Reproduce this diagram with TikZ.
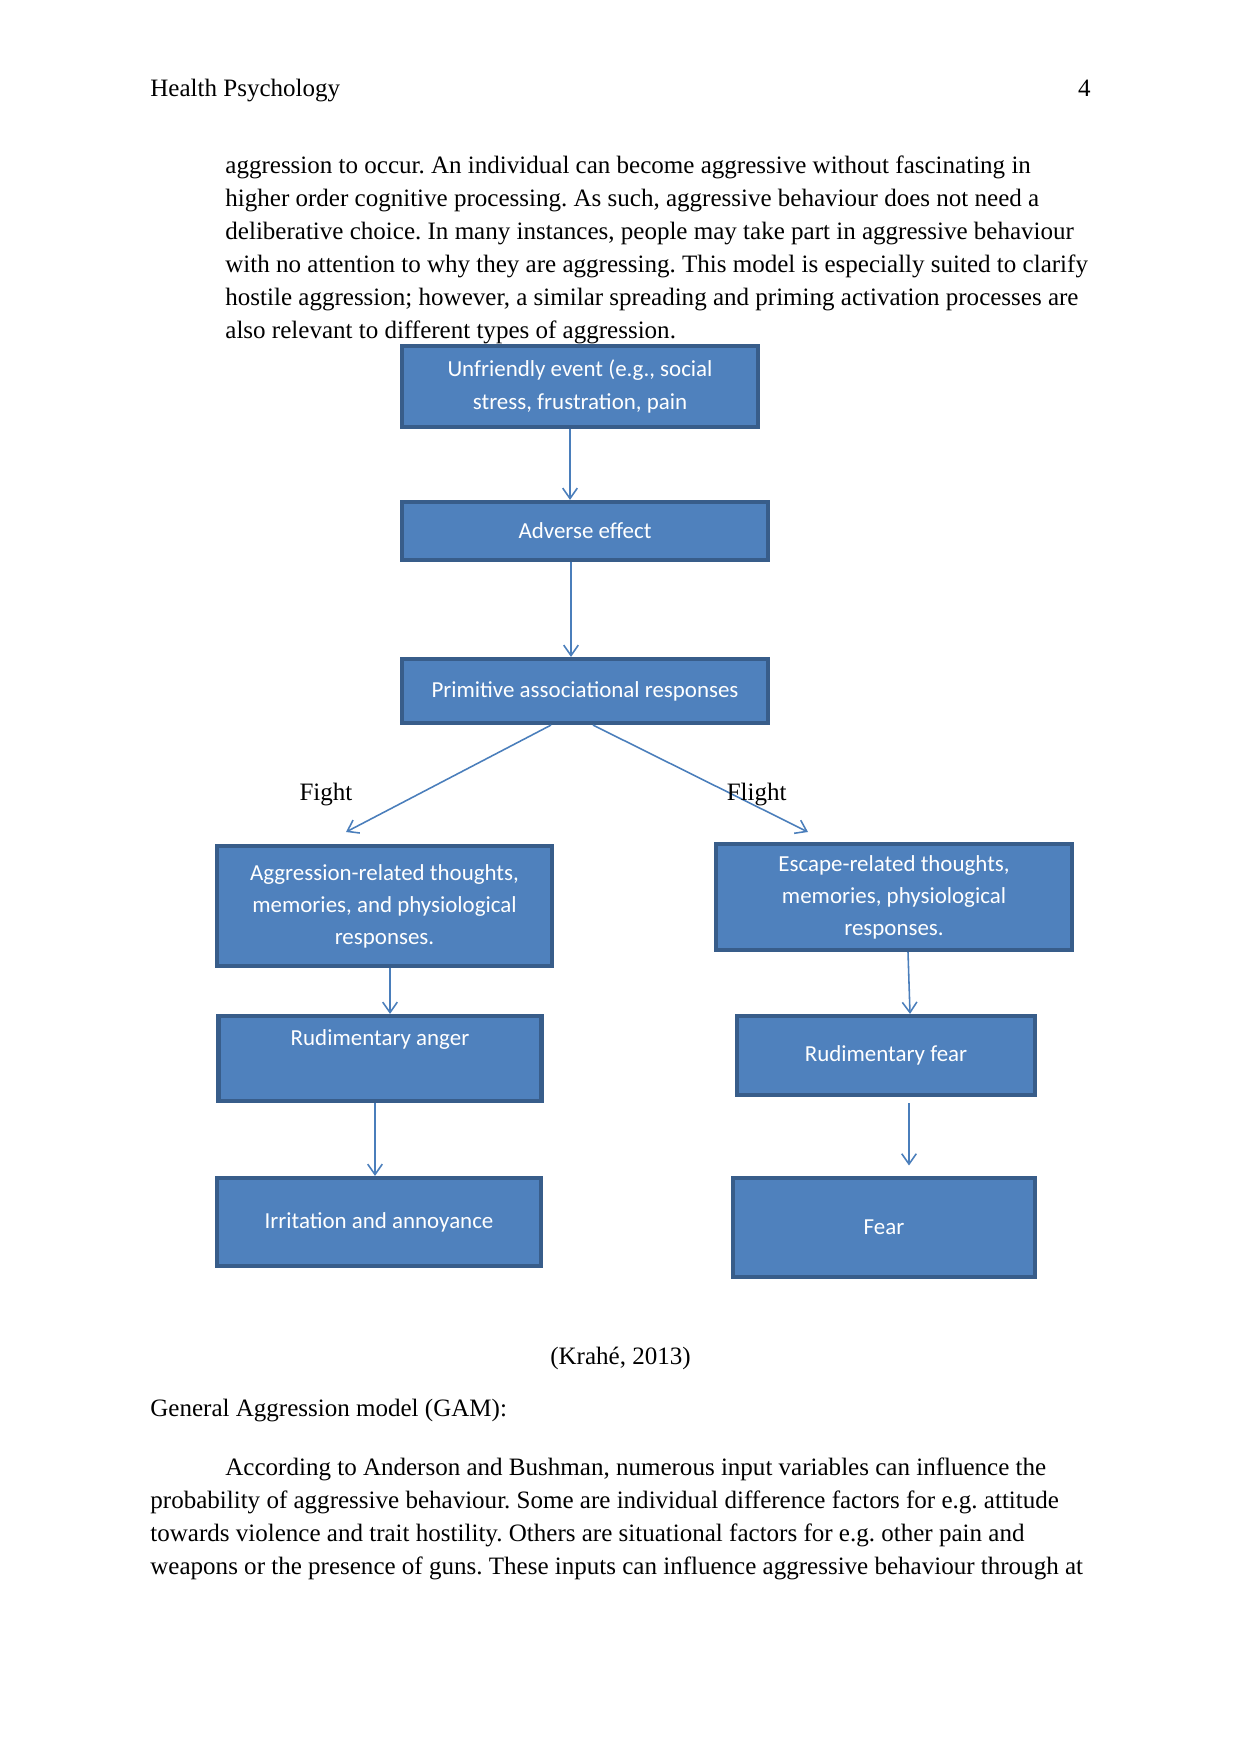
\documentclass[tikz,border=0pt]{standalone}
\usepackage{fontspec}
\setmainfont{Liberation Serif}
\newfontfamily\boxfont{Carlito}
\usetikzlibrary{arrows.meta,calc,positioning}
\definecolor{boxblue}{HTML}{4F81BD}
\definecolor{boxedge}{HTML}{385D8A}
\definecolor{linkblue}{HTML}{4A7EBB}
\newcommand{\pxu}{0.4795pt}
\frenchspacing

\begin{document}
\begin{tikzpicture}[x=0.4795pt, y=-0.4795pt, >={Straight Barb[length=5pt,width=7pt]}]
    % Primitive fight/flight responses to an unfriendly event (page 4)
    \tikzset{box/.style={draw=boxedge, line width=2pt, fill=boxblue, text=white, font=\boxfont\fontsize{11}{15.4}\selectfont, align=center, inner sep=0pt},
             boxtext/.style={text=white, font=\boxfont\fontsize{11}{15.4}\selectfont, inner sep=0pt},
             link/.style={->, draw=linkblue, line width=0.75pt},
             pagetext/.style={font=\fontsize{12}{15.8}\selectfont\frenchspacing, inner sep=0pt, anchor=base west}}
    \useasboundingbox (0,0) rectangle (1241,1754);
    % running head and text above the figure
    \node[pagetext] (head) at (150,96.7) {Health Psychology};
    \node[pagetext, anchor=base east] (pageno) at (1091,96.7) {4};
    \foreach \txt [count=\i] in {{aggression to occur. An individual can become aggressive without fascinating in},
                                 {higher order cognitive processing. As such, aggressive behaviour does not need a},
                                 {deliberative choice. In many instances, people may take part in aggressive behaviour},
                                 {with no attention to why they are aggressing. This model is especially suited to clarify},
                                 {hostile aggression; however, a similar spreading and priming activation processes are},
                                 {also relevant to different types of aggression.}}
        \node[pagetext] (upper\i) at (225,{173.3+33*(\i-1)}) {\txt};
    % boxes
    \node[box, minimum width={356*\pxu}, minimum height={81*\pxu}] (unfr) at (580,386.5) {Unfriendly event (e.g., social\\stress, frustration, pain};
    \node[box, minimum width={366*\pxu}, minimum height={58*\pxu}] (adv) at (585,531) {Adverse effect};
    \node[box, minimum width={366*\pxu}, minimum height={64*\pxu}] (prim) at (585,691) {Primitive associational responses};
    \node[box, minimum width={335*\pxu}, minimum height={120*\pxu}] (aggr) at (384.5,906) {Aggression-related thoughts,\\memories, and physiological\\responses.};
    \node[box, minimum width={356*\pxu}, minimum height={106*\pxu}] (esc) at (894,897) {Escape-related thoughts,\\memories, physiological\\responses.};
    \node[box, minimum width={323*\pxu}, minimum height={85*\pxu}] (anger) at (380,1058.5) {};
    \node[boxtext] (angerlabel) at ($(anger.north)+(0,26)$) {Rudimentary anger};
    \node[box, minimum width={298*\pxu}, minimum height={79*\pxu}] (rfear) at (886,1055.5) {Rudimentary fear};
    \node[box, minimum width={324*\pxu}, minimum height={88*\pxu}] (irr) at (379,1222) {Irritation and annoyance};
    \node[box, minimum width={302*\pxu}, minimum height={99*\pxu}] (fear) at (884,1227.5) {Fear};
    % connectors
    \draw[link] ($(unfr.south)+(-10,0)$) -- ($(adv.north)+(-15,0)$);
    \draw[link] ($(adv.south)+(-14,0)$) -- ($(prim.north)+(-14,0)$);
    \coordinate (fighttip) at (346,832);
    \coordinate (flighttip) at (808,832);
    \draw[link] ($(prim.south)+(-34,0)$) -- (fighttip);
    \draw[link] ($(prim.south)+(8,0)$) -- (flighttip);
    \node[pagetext, anchor=base] (fightlabel) at (326,800.7) {Fight};
    \node[pagetext, anchor=base] (flightlabel) at (756.7,800.7) {Flight};
    \draw[link] ($(aggr.south)+(5.5,0)$) -- ($(anger.north)+(10,0)$);
    \draw[link] ($(esc.south)+(14,0)$) -- ($(rfear.north)+(24,0)$);
    \draw[link] ($(anger.south)+(-5,0)$) -- ($(irr.north)+(-4,0)$);
    \draw[link, shorten <=3pt, shorten >=5pt] ($(rfear.south)+(23,0)$) -- ($(fear.north)+(25,0)$);
    % text below the figure
    \node[pagetext, anchor=base] (source) at (620.5,1364) {(Krahé, 2013)};
    \node[pagetext] (gam) at (150,1416.7) {General Aggression model (GAM):};
    \node[pagetext] (lower1) at (225,1475) {According to Anderson and Bushman, numerous input variables can influence the};
    \node[pagetext] (lower2) at (150,1508) {probability of aggressive behaviour. Some are individual difference factors for e.g. attitude};
    \node[pagetext] (lower3) at (150,1541) {towards violence and trait hostility. Others are situational factors for e.g. other pain and};
    \node[pagetext] (lower4) at (150,1574) {weapons or the presence of guns. These inputs can influence aggressive behaviour through at};
\end{tikzpicture}
\end{document}
